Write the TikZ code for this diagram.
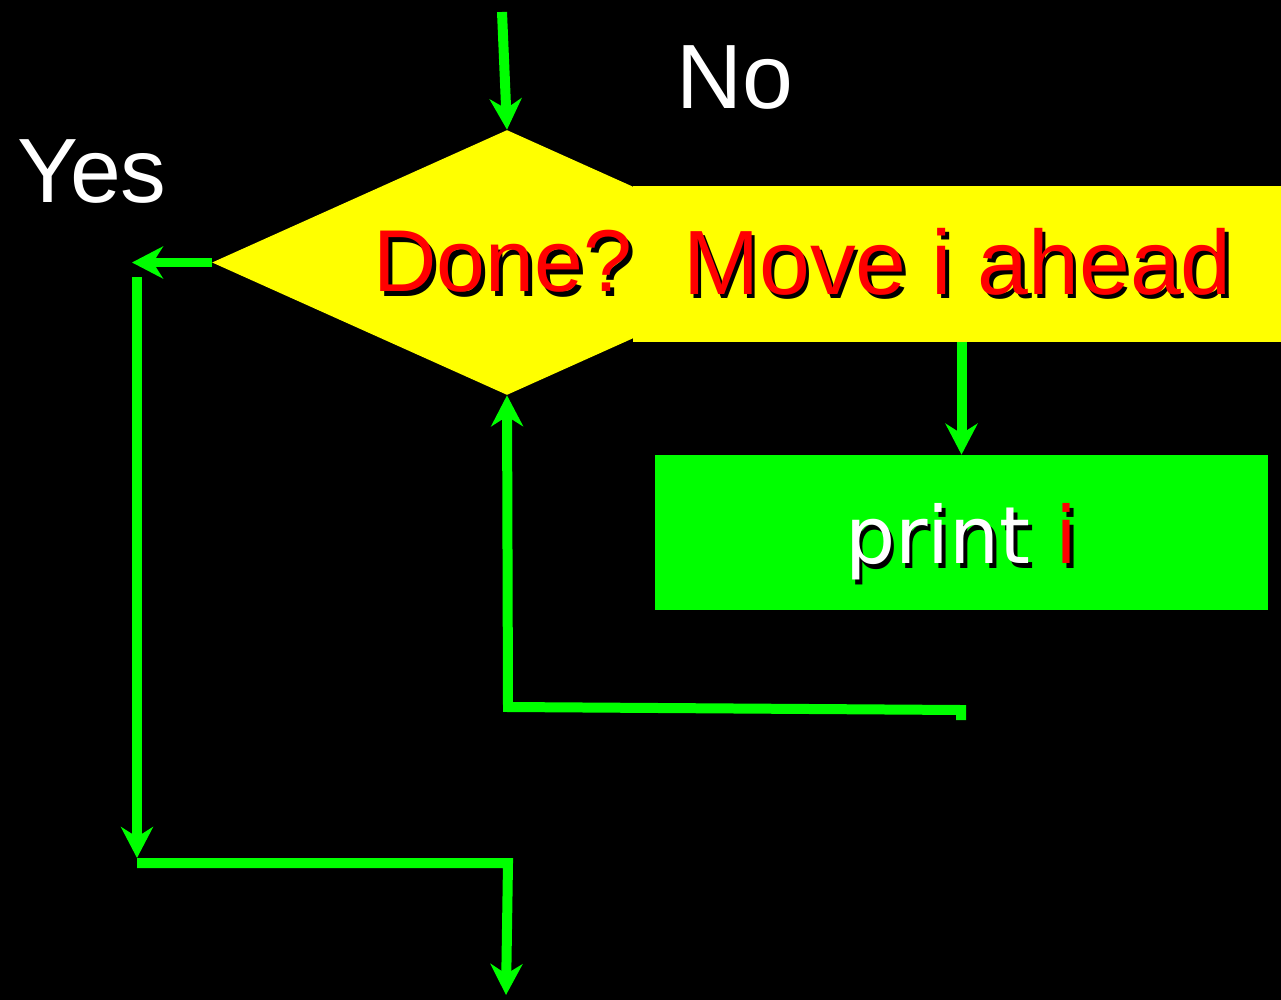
\documentclass[tikz,border=0pt]{standalone}
\usepackage{fontspec}
\setmainfont{Liberation Sans}
\newfontfamily\printfont{DejaVu Sans}
\usetikzlibrary{arrows.meta,shapes.geometric}
\definecolor{flowgreen}{RGB}{0,255,0}
\definecolor{boxyellow}{RGB}{255,255,0}
\definecolor{txtred}{RGB}{255,0,0}
\newcommand\shadowed[2]{\makebox[0pt][l]{\hspace{0.07cm}\raisebox{-0.09cm}{\color{black}#2}}{\color{#1}#2}}
\begin{document}
\begin{tikzpicture}[x=0.02cm,y=-0.02cm,>={Stealth[length=0.62cm,width=0.64cm,inset=0.2cm]},
  flow/.style={flowgreen,line width=0.2cm},
  bigtxt/.style={font=\fontsize{52}{60}\selectfont},
  label/.style={bigtxt,text=white,inner sep=0}]
  \useasboundingbox[fill=black] (0,0) rectangle (1281,1000);

  \node[diamond,fill=boxyellow,aspect=2.2,inner sep=0,minimum width=11.8cm,minimum height=5.3cm] (done) at (507,262.5) {};
  \node[rectangle,fill=boxyellow,minimum width=12.98cm,minimum height=3.12cm,inner sep=0,bigtxt] (move) at (957.5,264) {\shadowed{txtred}{Move i ahead}};
  \node[inner sep=0,font=\fontsize{50}{60}\selectfont] (done text) at (503,264) {\shadowed{txtred}{Done?}};
  \node[rectangle,fill=flowgreen,minimum width=12.26cm,minimum height=3.1cm,inner sep=0,text height=1.59cm,text depth=0.34cm,font=\printfont\fontsize{45}{54}\selectfont] (print) at (961.5,532.5) {\shadowed{white}{print} \shadowed{txtred}{i}};

  \node[label] (no) at (735,78) {No};
  \node[label] (yes) at (92,172) {Yes};

  \coordinate (in) at (502,12);
  \coordinate (yes end) at (132,262.5);
  \coordinate (yes top) at (137,277);
  \coordinate (yes bottom) at (137,858);
  \coordinate (out) at (506,995);
  \coordinate (loop) at (961,720);

  \draw[flow,->] (in) -- (done.north);
  \draw[flow,->] (done.west) -- (yes end);
  \draw[flow,->] (yes top) -- (yes bottom);
  \draw[flow,->] (137,863) -- (508,863) -- (out);
  \draw[flow,->] (move.south -| print.north) -- (print.north);
  \draw[flow,->] (loop) -- (961,710) -- (508,707) -- (done.south);
\end{tikzpicture}
\end{document}
